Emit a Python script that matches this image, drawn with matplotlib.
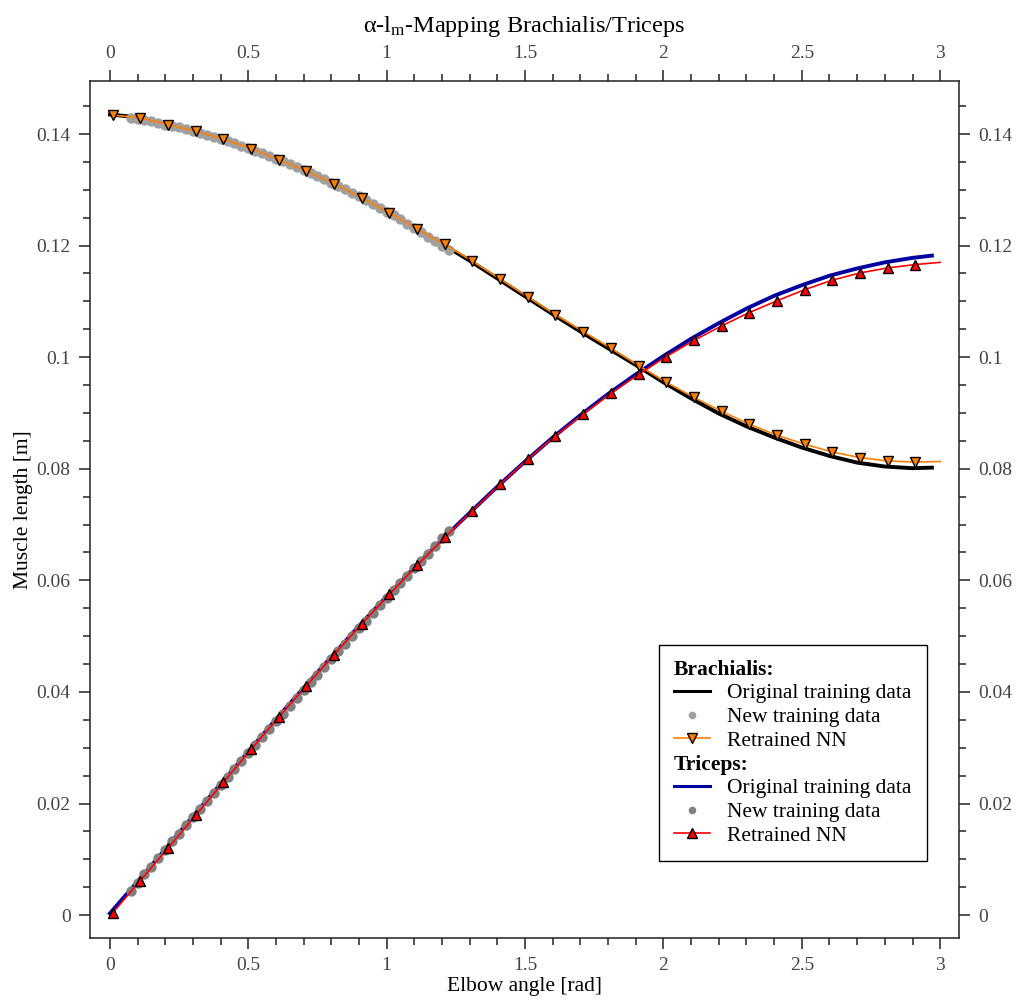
import matplotlib
matplotlib.use("Agg")
import matplotlib.pyplot as plt
from matplotlib.lines import Line2D
from matplotlib.ticker import MultipleLocator

plt.rcParams['font.family'] = ['Liberation Serif', 'DejaVu Serif']
plt.rcParams['mathtext.fontset'] = 'custom'
plt.rcParams['mathtext.rm'] = 'Liberation Serif'
plt.rcParams['mathtext.default'] = 'regular'

# --- Brachialis ---
bra_orig_x = [0.0, 0.1, 0.2, 0.3, 0.4, 0.5, 0.6, 0.7, 0.8, 0.9, 1.0, 1.1, 1.2, 1.3, 1.4,
              1.5, 1.6, 1.7, 1.8, 1.9, 2.0, 2.1, 2.2, 2.3, 2.4, 2.5, 2.6, 2.7, 2.8, 2.9, 2.97]
bra_orig_y = [0.1435, 0.1430, 0.1418, 0.1405, 0.1391, 0.1375, 0.1356, 0.1336, 0.1313, 0.1288,
              0.1261, 0.1232, 0.1203, 0.1173, 0.1141, 0.1109, 0.1077, 0.1046, 0.1016, 0.0986,
              0.0955, 0.0926, 0.0899, 0.0876, 0.0856, 0.0838, 0.0823, 0.0811, 0.0804, 0.0801, 0.0802]

new_x = [0.075, 0.1, 0.125, 0.15, 0.175, 0.2, 0.225, 0.25, 0.275, 0.3, 0.325, 0.35, 0.375,
         0.4, 0.425, 0.45, 0.475, 0.5, 0.525, 0.55, 0.575, 0.6, 0.625, 0.65, 0.675, 0.7,
         0.725, 0.75, 0.775, 0.8, 0.825, 0.85, 0.875, 0.9, 0.925, 0.95, 0.975, 1.0, 1.025,
         1.05, 1.075, 1.1, 1.125, 1.15, 1.175, 1.2, 1.225]
bra_new_y = [0.1429, 0.1427, 0.1425, 0.1423, 0.1420, 0.1417, 0.1415, 0.1412, 0.1409, 0.1405,
             0.1402, 0.1398, 0.1395, 0.1391, 0.1387, 0.1383, 0.1379, 0.1375, 0.1370, 0.1366,
             0.1361, 0.1356, 0.1351, 0.1346, 0.1341, 0.1336, 0.1330, 0.1325, 0.1319, 0.1313,
             0.1307, 0.1301, 0.1294, 0.1288, 0.1281, 0.1275, 0.1268, 0.1261, 0.1254, 0.1247,
             0.1239, 0.1232, 0.1224, 0.1216, 0.1208, 0.1200, 0.1192]

nn_x = [0.01, 0.11, 0.21, 0.31, 0.41, 0.51, 0.61, 0.71, 0.81, 0.91, 1.01, 1.11, 1.21, 1.31,
        1.41, 1.51, 1.61, 1.71, 1.81, 1.91, 2.01, 2.11, 2.21, 2.31, 2.41, 2.51, 2.61, 2.71,
        2.81, 2.91, 3.0]
bra_nn_y = [0.1434, 0.1429, 0.1417, 0.1405, 0.1391, 0.1374, 0.1354, 0.1334, 0.1311, 0.1286,
            0.1259, 0.1230, 0.1202, 0.1172, 0.1140, 0.1108, 0.1076, 0.1046, 0.1016, 0.0985,
            0.0955, 0.0928, 0.0903, 0.0880, 0.0860, 0.0844, 0.0830, 0.0820, 0.0814, 0.0812, 0.0813]

# --- Triceps ---
tri_orig_y = [0.0003, 0.0060, 0.0118, 0.0177, 0.0235, 0.0293, 0.0351, 0.0407, 0.0463, 0.0518,
              0.0571, 0.0623, 0.0673, 0.0721, 0.0768, 0.0813, 0.0856, 0.0896, 0.0934, 0.0969,
              0.1002, 0.1033, 0.1061, 0.1087, 0.1110, 0.1129, 0.1146, 0.1159, 0.1170, 0.1178, 0.1182]

tri_new_y = [0.0043, 0.0058, 0.0073, 0.0087, 0.0102, 0.0117, 0.0132, 0.0146, 0.0161, 0.0175,
             0.0190, 0.0204, 0.0219, 0.0233, 0.0248, 0.0262, 0.0276, 0.0291, 0.0305, 0.0319,
             0.0333, 0.0347, 0.0361, 0.0375, 0.0389, 0.0403, 0.0417, 0.0431, 0.0445, 0.0459,
             0.0473, 0.0486, 0.0500, 0.0514, 0.0527, 0.0541, 0.0555, 0.0568, 0.0582, 0.0595,
             0.0608, 0.0622, 0.0635, 0.0648, 0.0662, 0.0675, 0.0688]

tri_nn_y = [0.0004, 0.0062, 0.0120, 0.0179, 0.0238, 0.0297, 0.0355, 0.0411, 0.0467, 0.0522,
            0.0575, 0.0627, 0.0677, 0.0725, 0.0772, 0.0817, 0.0859, 0.0898, 0.0935, 0.0969,
            0.1001, 0.1030, 0.1056, 0.1080, 0.1101, 0.1121, 0.1138, 0.1151, 0.1160, 0.1166, 0.1170]

orange = '#ff8000'
navy = '#0000a0'

fig = plt.figure(figsize=(10.2, 10.05), dpi=100)
ax = fig.add_axes([0.0882, 0.0667, 0.852, 0.8527])

ax.plot(bra_orig_x, bra_orig_y, color='black', lw=2.8, zorder=1)
ax.plot(bra_orig_x, tri_orig_y, color=navy, lw=2.8, zorder=1)
ax.plot(new_x, bra_new_y, ls='none', marker='o', ms=7.5, color='#a0a0a0', mec='none', zorder=2)
ax.plot(new_x, tri_new_y, ls='none', marker='o', ms=7.5, color='#808080', mec='none', zorder=2)
ax.plot(nn_x, bra_nn_y, color=orange, lw=1.2, marker='v', ms=7.5, mfc=orange, mec='black',
        mew=1.0, markevery=range(30), zorder=3)
ax.plot(nn_x, tri_nn_y, color='red', lw=1.2, marker='^', ms=7.5, mfc='red', mec='black',
        mew=1.0, markevery=range(30), zorder=3)

ax.set_xlim(-0.072, 3.068)
ax.set_ylim(-0.0041, 0.1495)
ax.xaxis.set_major_locator(MultipleLocator(0.5))
ax.xaxis.set_minor_locator(MultipleLocator(0.1))
ax.yaxis.set_major_locator(MultipleLocator(0.02))
ax.yaxis.set_minor_locator(MultipleLocator(0.005))
ax.xaxis.set_major_formatter(lambda v, p: f"{v:g}")
ax.yaxis.set_major_formatter(lambda v, p: f"{round(v, 4):g}")

ax.tick_params(which='both', direction='out', top=True, right=True,
               labeltop=True, labelright=True, width=1.1, color='#222222',
               labelsize=14, labelcolor='#444444')
ax.tick_params(which='major', length=8, pad=6)
ax.tick_params(which='minor', length=5)
for s in ax.spines.values():
    s.set_linewidth(1.1)
    s.set_color('#222222')

ax.set_xlabel('Elbow angle [rad]', fontsize=15.5, labelpad=2)
ax.set_ylabel('Muscle length [m]', fontsize=15.5, labelpad=2)
ax.set_title(r'α-l$_{m}$-Mapping Brachialis/Triceps', fontsize=17.5, pad=9)

blank = Line2D([], [], ls='none')
handles = [
    blank,
    Line2D([], [], color='black', lw=2.2),
    Line2D([], [], ls='none', marker='o', ms=5.5, color='#a0a0a0', mec='none'),
    Line2D([], [], color=orange, lw=1.2, marker='v', ms=7, mfc=orange, mec='black'),
    blank,
    Line2D([], [], color=navy, lw=2.2),
    Line2D([], [], ls='none', marker='o', ms=5.5, color='#808080', mec='none'),
    Line2D([], [], color='red', lw=1.2, marker='^', ms=7, mfc='red', mec='black'),
]
labels = ['Brachialis:', 'Original training data', 'New training data', 'Retrained NN',
          'Triceps:', 'Original training data', 'New training data', 'Retrained NN']
leg = ax.legend(handles, labels, loc='lower right', bbox_to_anchor=(0.963, 0.09),
                borderaxespad=0, fontsize=15.5, numpoints=1, handlelength=1.7,
                handletextpad=0.8, labelspacing=0.17, fancybox=False, framealpha=1,
                edgecolor='black', borderpad=0.7)
leg.get_frame().set_linewidth(1.0)
for i in (0, 4):
    leg.get_texts()[i].set_fontweight('bold')
col = leg._legend_handle_box.get_children()[0]
for i in (0, 4):
    row = col.get_children()[i]
    row.get_children()[0].width = 0
    row.sep = 0

fig.savefig('out.png', dpi=100)
